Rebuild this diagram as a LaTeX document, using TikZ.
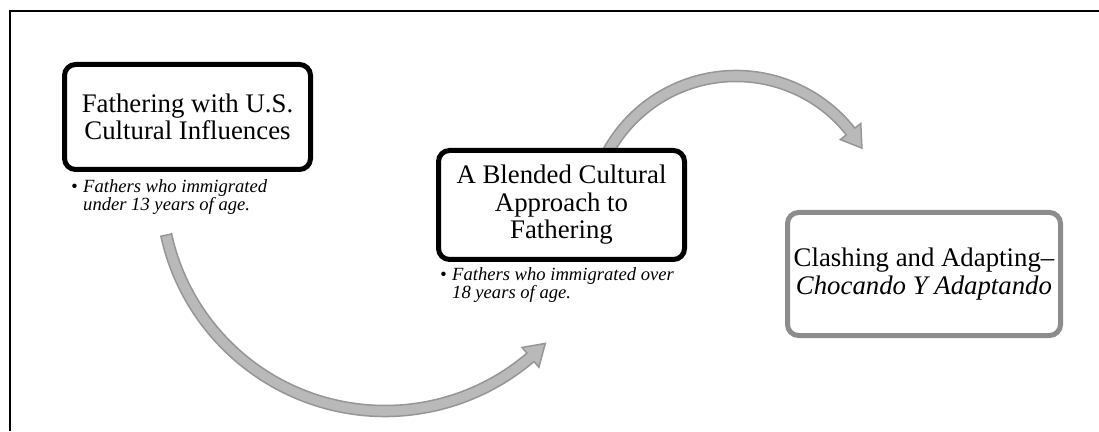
\documentclass[tikz,border=0pt]{standalone}
\usepackage{fontspec}
\setmainfont{Liberation Serif}

\definecolor{arcfill}{RGB}{185,185,185}
\definecolor{arcline}{RGB}{150,150,150}
\definecolor{boxgray}{RGB}{140,140,140}

\begin{document}
\begin{tikzpicture}[x=1pt,y=1pt,
    stagebox/.style={draw,line width=5pt,rounded corners=11pt,fill=white,align=center,
      inner sep=4pt,font=\fontsize{26.8}{27.5}\selectfont},
    notetext/.style={align=left,inner sep=0pt,anchor=north west,
      font=\fontsize{18.6}{16.7}\selectfont\itshape},
    blockarc/.style={fill=arcfill,draw=arcline,line width=1.5pt,line join=miter}]
	\useasboundingbox (0,0) rectangle (1099,431);
	% frame
	\draw[line width=2pt] (9.5,0)-- (9.5,419.5)-- (1099,419.5);
	% centres of the two block arcs
	\coordinate (arcA) at (385,244);
	\coordinate (arcB) at (736,209);
	\begin{scope}[shift={(arcA)}]
		\draw[blockarc] (192.4:229.5pt) arc[start angle=192.4,end angle=310.5,radius=229.5pt]
			-- (310.5:237pt) -- (315.7:224pt) -- (310.5:211pt) -- (310.5:218.5pt)
			arc[start angle=310.5,end angle=192.4,radius=218.5pt] -- cycle;
	\end{scope}
	\begin{scope}[shift={(arcB)}]
		\draw[blockarc] (159:151.5pt) arc[start angle=159,end angle=38.3,radius=151.5pt]
			-- (38.3:159pt) -- (30.4:146pt) -- (38.3:133pt) -- (38.3:140.5pt)
			arc[start angle=38.3,end angle=159,radius=140.5pt] -- cycle;
	\end{scope}
	% stages
	\node[stagebox,minimum width=246pt,minimum height=105pt] (fathUS) at (187.5,314)
		{Fathering with U.S.\\Cultural Influences};
	\node[stagebox,minimum width=246pt,minimum height=109pt] (blended) at (561.5,226)
		{A Blended Cultural\\Approach to\\Fathering};
	\node[stagebox,draw=boxgray,minimum width=273pt,minimum height=123pt] (clashing) at (924,157)
		{Clashing and Adapting–\\\textit{Chocando Y Adaptando}};
	% notes under the stages
	\node[notetext] (noteUS) at (83,251.7)
		{\llap{\textbullet\hspace{5.5pt}}Fathers who immigrated\\under 13 years of age.};
	\node[notetext] (noteBlend) at (452,163.7)
		{\llap{\textbullet\hspace{5.5pt}}Fathers who immigrated over\\18 years of age.};
\end{tikzpicture}
\end{document}
